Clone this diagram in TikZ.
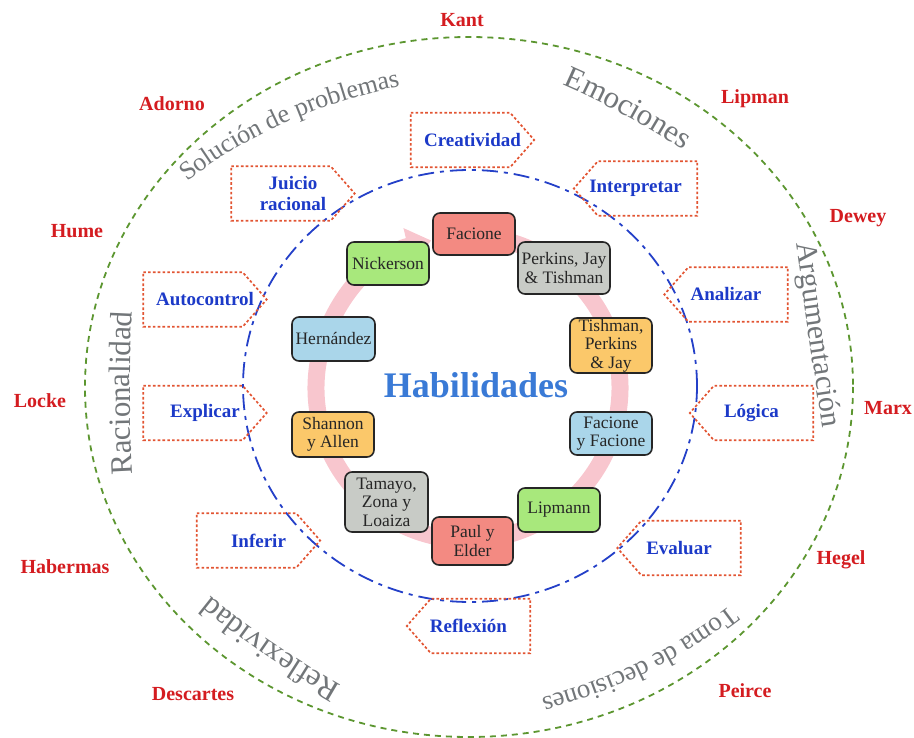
\documentclass[tikz,border=0pt]{standalone}
\usepackage{fontspec}
\setmainfont{Liberation Serif}
\usetikzlibrary{arrows.meta,decorations.text}

\definecolor{ringpink}{RGB}{248,198,206}
\definecolor{thinkred}{RGB}{212,28,32}
\definecolor{skillblue}{RGB}{28,58,200}
\definecolor{sigborder}{RGB}{226,84,50}
\definecolor{outergreen}{RGB}{92,150,48}
\definecolor{innerblue}{RGB}{36,64,200}
\definecolor{arcgray}{RGB}{114,118,121}
\definecolor{titleblue}{RGB}{58,122,214}
\definecolor{boxred}{RGB}{243,138,130}
\definecolor{boxgreen}{RGB}{168,232,124}
\definecolor{boxgray}{RGB}{200,203,198}
\definecolor{boxblue}{RGB}{170,214,234}
\definecolor{boxorange}{RGB}{251,200,106}

\begin{document}
\begin{tikzpicture}[x=1pt,y=-1pt,
  outerring/.style={draw=outergreen, line width=1.8pt, dash pattern=on 6pt off 5pt},
  innerring/.style={draw=innerblue, line width=1.8pt, dash pattern=on 16pt off 6pt on 4pt off 6pt},
  cyclearrow/.style={draw=ringpink, line width=17pt, -{Triangle[width=36pt,length=24pt]}},
  author/.style={rounded corners=7pt, draw=black!85, line width=1.6pt, inner sep=1pt,
    align=center, font=\fontsize{17.5}{18.5}\selectfont, text=black!85},
  thinker/.style={text=thinkred, font=\fontsize{20}{22}\selectfont\bfseries},
  skill/.style={minimum width=123pt, minimum height=54pt, inner sep=0pt, align=center,
    text=skillblue, font=\fontsize{19}{21}\selectfont\bfseries},
  sigline/.style={draw=sigborder, line width=1.7pt, dash pattern=on 2.6pt off 2.2pt},
  arctext/.style={decorate, decoration={text along path, raise=-6pt,
    text align=center, text color=arcgray, text={#1}}},
  bandcurve/.style={domain=0:1, samples=41},
]
\useasboundingbox (0,0) rectangle (914,738);

% rings
\draw[outerring] (469,387) ellipse [x radius=384, y radius=350];
\draw[innerring] (470,386) ellipse [x radius=227, y radius=216];
\draw[cyclearrow] (468,388) ++(-82:152) arc[start angle=-82, end angle=256, radius=152];

% words along the outer band: each one follows the parabola through
% a start point, its middle point (the scope origin) and an end point
\begin{scope}[shift={(282,118)}]
\path[arctext={|\fontsize{26}{27}\selectfont|Solución de problemas}]
  plot[bandcurve] ({-112*(1-\x)*(1-2*\x) + 134*\x*(2*\x-1)}, {70*(1-\x)*(1-2*\x) - 41*\x*(2*\x-1)});
\end{scope}
\begin{scope}[shift={(624,108)}]
\path[arctext={|\fontsize{31}{32}\selectfont|Emociones}]
  plot[bandcurve] ({-77*(1-\x)*(1-2*\x) + 79*\x*(2*\x-1)}, {-36*(1-\x)*(1-2*\x) + 48*\x*(2*\x-1)});
\end{scope}
\begin{scope}[shift={(815,335)}]
\path[arctext={|\fontsize{30}{31}\selectfont|Argumentación}]
  plot[bandcurve] ({-16*(1-\x)*(1-2*\x) + 17*\x*(2*\x-1)}, {-115*(1-\x)*(1-2*\x) + 115*\x*(2*\x-1)});
\end{scope}
\begin{scope}[shift={(643,667)}]
\path[arctext={|\fontsize{27}{28}\selectfont|Toma de decisiones}]
  plot[bandcurve] ({114*(1-\x)*(1-2*\x) - 129*\x*(2*\x-1)}, {-75*(1-\x)*(1-2*\x) + 43*\x*(2*\x-1)});
\end{scope}
\begin{scope}[shift={(270,648)}]
\path[arctext={|\fontsize{31}{32}\selectfont|Reflexividad}]
  plot[bandcurve] ({86*(1-\x)*(1-2*\x) - 79*\x*(2*\x-1)}, {53*(1-\x)*(1-2*\x) - 60*\x*(2*\x-1)});
\end{scope}
\begin{scope}[shift={(124,393)}]
\path[arctext={|\fontsize{31}{32}\selectfont|Racionalidad}]
  plot[bandcurve] ({4*(1-\x)*(1-2*\x) + 3*\x*(2*\x-1)}, {103*(1-\x)*(1-2*\x) - 103*\x*(2*\x-1)});
\end{scope}

% skills pointing right
\node[skill] (creat)  at (472.5,140) {Creatividad};
\node[skill] (juicio) at (293,193.5) {Juicio\\racional};
\node[skill] (autoc)  at (205,299.5) {Autocontrol};
\node[skill] (expl)   at (205,413) {Explicar};
\node[skill] (infer)  at (258.5,540.5) {Inferir};
\foreach \n in {creat,juicio,autoc,expl,infer}
  \draw[sigline] (\n.north west) -- ([xshift=-24pt]\n.north east) -- (\n.east)
    -- ([xshift=-24pt]\n.south east) -- (\n.south west) -- cycle;

% skills pointing left
\node[skill] (interp) at (635.5,188.5) {Interpretar};
\node[skill] (anal)   at (726,294.5) {Analizar};
\node[skill] (logica) at (751.5,413) {Lógica};
\node[skill] (reflex) at (468.5,626) {Reflexión};
\node[skill] (evalu)  at (679,548) {Evaluar};
\foreach \n in {interp,anal,logica,reflex,evalu}
  \draw[sigline] (\n.north east) -- ([xshift=24pt]\n.north west) -- (\n.west)
    -- ([xshift=24pt]\n.south west) -- (\n.south east) -- cycle;

% authors around the cycle
\node[author, fill=boxred,    minimum width=82pt, minimum height=42pt] (facione) at (474,234) {Facione};
\node[author, fill=boxgreen,  minimum width=82pt, minimum height=43pt] (nicker)  at (388,263.5) {Nickerson};
\node[author, fill=boxgray,   minimum width=92pt, minimum height=52pt] (perkins) at (564,268) {Perkins, Jay\\\& Tishman};
\node[author, fill=boxblue,   minimum width=83pt, minimum height=44pt] (hernan)  at (333.5,339) {Hernández};
\node[author, fill=boxorange, minimum width=82pt, minimum height=55pt] (tishman) at (611,345.5) {Tishman,\\Perkins\\\& Jay};
\node[author, fill=boxorange, minimum width=82pt, minimum height=45pt] (shannon) at (333,434.5) {Shannon\\y Allen};
\node[author, fill=boxblue,   minimum width=82pt, minimum height=43pt] (facfac)  at (611,433.5) {Facione\\y Facione};
\node[author, fill=boxgray,   minimum width=83pt, minimum height=60pt] (tamayo)  at (386.5,502) {Tamayo,\\Zona y\\Loaiza};
\node[author, fill=boxred,    minimum width=81pt, minimum height=48pt] (paul)    at (472.5,541) {Paul y\\Elder};
\node[author, fill=boxgreen,  minimum width=82pt, minimum height=44pt] (lipmann) at (559,510) {Lipmann};

\node[text=titleblue, font=\fontsize{36}{38}\selectfont\bfseries] (hab) at (476,385) {Habilidades};

% thinkers outside the outer ring
\node[thinker] (kant)      at (462,20)  {Kant};
\node[thinker] (adorno)    at (172,104) {Adorno};
\node[thinker] (lipman)    at (755,99)  {Lipman};
\node[thinker] (hume)      at (77,231)  {Hume};
\node[thinker] (dewey)     at (858,218) {Dewey};
\node[thinker] (locke)     at (40,401)  {Locke};
\node[thinker] (marx)      at (888,408) {Marx};
\node[thinker] (habermas)  at (65,567)  {Habermas};
\node[thinker] (hegel)     at (841,560) {Hegel};
\node[thinker] (descartes) at (193,694) {Descartes};
\node[thinker] (peirce)    at (745,691) {Peirce};
\end{tikzpicture}
\end{document}
